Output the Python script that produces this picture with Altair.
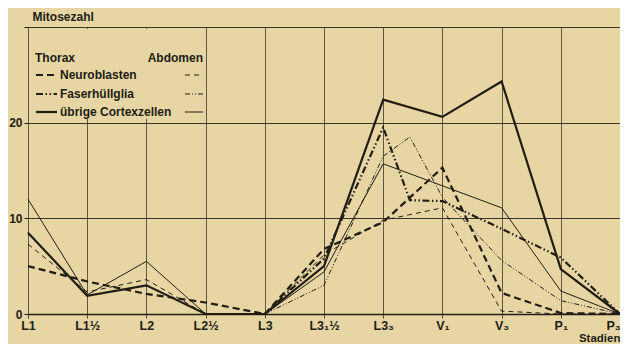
import altair as alt
import pandas as pd

# ---------------- data ----------------
stages = ["L1", "L1½", "L2", "L2½", "L3", "L3₁½", "L3₃", "V₁", "V₃", "P₁", "P₃"]
stage_index = list(range(len(stages)))

thorax_neuroblasten = [5.0, 3.4, 2.1, 1.2, 0.0, 6.8, 9.6, 15.3, 2.2, 0.1, 0.0]
abdomen_neuroblasten = [7.3, 2.3, 3.6, 0.0, 0.0, 6.2, 9.8, 11.1, 0.3, 0.0, 0.0]
thorax_cortex = [8.5, 1.9, 3.0, 0.0, 0.0, 5.0, 22.4, 20.6, 24.3, 4.7, 0.0]
abdomen_cortex = [12.0, 2.0, 5.5, 0.0, 0.0, 4.4, 15.7, 13.4, 11.1, 2.4, 0.0]

faser_index = [4, 5, 6, 6.45, 7, 8, 9, 10]
thorax_faser = [0.0, 5.8, 19.5, 11.9, 11.8, 8.9, 5.9, 0.0]
abdomen_faser = [0.0, 3.0, 16.5, 18.5, 12.2, 5.6, 1.4, 0.0]

header_labels = ["Thorax", "Abdomen"]
legend_labels = ["Neuroblasten", "Faserhüllglia", "übrige Cortexzellen"]

series = {
    "thorax_neuro": (stage_index, thorax_neuroblasten),
    "abdomen_neuro": (stage_index, abdomen_neuroblasten),
    "thorax_cortex": (stage_index, thorax_cortex),
    "abdomen_cortex": (stage_index, abdomen_cortex),
    "thorax_faser": (faser_index, thorax_faser),
    "abdomen_faser": (faser_index, abdomen_faser),
}

rows = []
for name, (xs, ys) in series.items():
    for xv, yv in zip(xs, ys):
        rows.append({"series": name, "x": xv, "y": yv})
df = pd.DataFrame(rows)

# ---------------- styles ----------------
BG = "#e7d6a3"
INK = "#211d15"
GRID = "#4f4736"
FONT = "Liberation Sans"

PLOT_W = 592
PLOT_H = 287

THICK = 2.2
THIN = 1.0
dash_thick = [7, 4]
dash_thin = [5, 4]
dd_thick = [7, 2.5, 1.5, 2.5, 1.5, 2.5]
dd_thin = [5, 2, 1, 2, 1, 2]

styles = {
    "thorax_neuro": (dash_thick, THICK),
    "abdomen_neuro": (dash_thin, THIN),
    "thorax_cortex": (None, THICK),
    "abdomen_cortex": (None, THIN),
    "thorax_faser": (dd_thick, THICK),
    "abdomen_faser": (dd_thin, THIN),
}

label_array = "[" + ",".join("'" + s + "'" for s in stages) + "]"
last_index = stage_index[-1]

xscale = alt.Scale(domain=[0, 10], nice=False, zero=False)
yscale = alt.Scale(domain=[0, 30], nice=False)

xaxis = alt.Axis(
    values=stage_index,
    labelExpr=label_array + "[datum.value]",
    labelAlign={"condition": {"test": f"datum.value == {last_index}", "value": "right"},
                "value": "center"},
    grid=True, gridColor=GRID, gridWidth=0.9,
    domain=True, domainColor=INK, domainWidth=1.6,
    ticks=True, tickSize=4, tickColor=GRID,
    labelFont=FONT, labelFontSize=12.5, labelFontWeight="bold", labelColor=INK,
    labelPadding=1, labelFlush=False, labelOverlap=False,
    title="Stadien", titleFont=FONT, titleFontSize=11.5, titleFontWeight="bold",
    titleColor=INK, titleX=PLOT_W, titleY=24, titleAlign="right", titleBaseline="middle",
)
yaxis = alt.Axis(
    values=[0, 10, 20, 30],
    labelExpr="datum.value == 30 ? '' : datum.label",
    grid=True, gridColor="#3a3326", gridWidth=1.2,
    domain=False,
    ticks=True, tickSize=4, tickColor=INK,
    labelFont=FONT, labelFontSize=12, labelFontWeight="bold", labelColor=INK,
    labelPadding=2, labelFlush=False,
    title="Mitosezahl", titleFont=FONT, titleFontSize=12, titleFontWeight="bold",
    titleColor=INK, titleAngle=0, titleX=4, titleY=-11, titleAlign="left",
    titleBaseline="middle",
)

base = alt.Chart(df)
layers = []
for name, (dash, width) in styles.items():
    kw = dict(strokeWidth=width, color=INK, strokeCap="butt", strokeJoin="miter")
    if dash is not None:
        kw["strokeDash"] = dash
    layers.append(
        base.transform_filter(alt.datum.series == name)
        .mark_line(**kw)
        .encode(
            x=alt.X("x:Q", scale=xscale, axis=xaxis),
            y=alt.Y("y:Q", scale=yscale, axis=yaxis),
            order="x:Q",
        )
    )

# ---------------- legend (drawn inside the plot) ----------------
one = pd.DataFrame({"k": [0]})

legend_layers = [
    alt.Chart(one).mark_rect(fill=BG).encode(
        x=alt.value(1), x2=alt.value(177), y=alt.value(2), y2=alt.value(92)
    )
]


def txt(s, x, y, align="left"):
    return alt.Chart(one).mark_text(
        text=s, align=align, baseline="middle", font=FONT, fontSize=12,
        fontWeight="bold", color=INK,
    ).encode(x=alt.value(x), y=alt.value(y))


def sample(x1, x2, y, dash, width):
    kw = dict(strokeWidth=width, color=INK)
    if dash is not None:
        kw["strokeDash"] = dash
    return alt.Chart(one).mark_rule(**kw).encode(
        x=alt.value(x1), x2=alt.value(x2), y=alt.value(y)
    )


legend_layers.append(txt(header_labels[0], 7, 31))
legend_layers.append(txt(header_labels[1], 175, 31, "right"))
row_y = [48, 67, 85]
row_styles = [
    ((dash_thick, THICK), (dash_thin, THIN)),
    ((dd_thick, THICK), (dd_thin, THIN)),
    ((None, THICK), (None, THIN)),
]
for lab, yy, (left, right) in zip(legend_labels, row_y, row_styles):
    legend_layers.append(sample(8, 29, yy, left[0], left[1]))
    legend_layers.append(txt(lab, 32, yy))
    legend_layers.append(sample(157, 175, yy, right[0], right[1]))

chart = (
    alt.layer(*layers, *legend_layers)
    .properties(
        width=PLOT_W,
        height=PLOT_H,
        background=BG,
        autosize=alt.AutoSizeParams(type="none"),
        padding={"left": 20, "top": 19, "right": 0, "bottom": 30},
    )
    .configure_view(stroke=None)
)

chart.save("out.html", embed_options={"renderer": "svg", "actions": False})
